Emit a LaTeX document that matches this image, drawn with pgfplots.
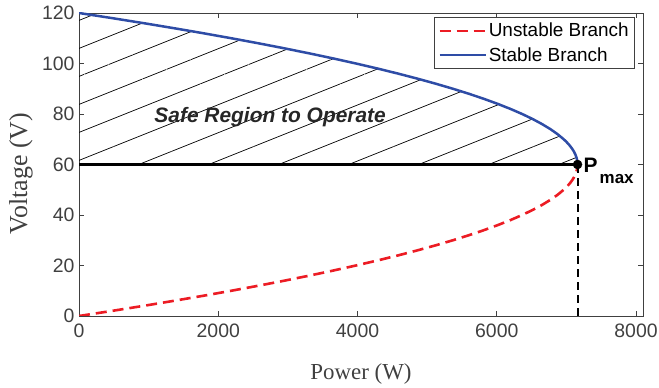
\documentclass[border=0pt]{standalone}
\usepackage{pgfplots}
\pgfplotsset{compat=1.18}
\usetikzlibrary{patterns.meta}
\usepackage{fontspec}
\setmainfont{Liberation Sans}
\newfontfamily\timesf{Liberation Serif}
\definecolor{cblue}{RGB}{46,76,166}
\definecolor{cred}{RGB}{236,28,36}
\definecolor{axgray}{RGB}{64,64,64}
\pgfplotstableread{
P V
0 0
469.4 2
922.8 4
1360.4 6
1782.0 8
2187.8 10
2577.6 12
2951.5 14
3309.5 16
3651.6 18
3977.8 20
4288.0 22
4582.4 24
4860.8 26
5123.4 28
5370.0 30
5600.7 32
5815.5 34
6014.4 36
6197.4 38
6364.4 40
6515.6 42
6650.8 44
6770.2 46
6873.6 48
6961.1 50
6998.9 51
7032.7 52
7062.5 53
7088.4 54
7110.3 55
7128.2 56
7142.1 57
7152.0 58
7158.0 59
7160.0 60
}\unstable
\pgfplotstableread{
P V
0 120
469.4 118
922.8 116
1360.4 114
1782.0 112
2187.8 110
2577.6 108
2951.5 106
3309.5 104
3651.6 102
3977.8 100
4288.0 98
4582.4 96
4860.8 94
5123.4 92
5370.0 90
5600.7 88
5815.5 86
6014.4 84
6197.4 82
6364.4 80
6515.6 78
6650.8 76
6770.2 74
6873.6 72
6961.1 70
6998.9 69
7032.7 68
7062.5 67
7088.4 66
7110.3 65
7128.2 64
7142.1 63
7152.0 62
7158.0 61
7160.0 60
}\stable
\pgfplotstableread{
P V
0 120
469.4 118
922.8 116
1360.4 114
1782.0 112
2187.8 110
2577.6 108
2951.5 106
3309.5 104
3651.6 102
3977.8 100
4288.0 98
4582.4 96
4860.8 94
5123.4 92
5370.0 90
5600.7 88
5815.5 86
6014.4 84
6197.4 82
6364.4 80
6515.6 78
6650.8 76
6770.2 74
6873.6 72
6961.1 70
6998.9 69
7032.7 68
7062.5 67
7088.4 66
7110.3 65
7128.2 64
7142.1 63
7152.0 62
7158.0 61
7160.0 60
0 60
}\region
\begin{document}
\begin{tikzpicture}
\begin{axis}[
  at={(79bp,72bp)}, anchor=south west,
  scale only axis, width=564bp, height=303bp,
  xmin=0, xmax=8100, ymin=0, ymax=120,
  xtick={0,2000,4000,6000,8000},
  ytick={0,20,40,60,80,100,120},
  scaled x ticks=false,
  /pgf/number format/assume math mode=true,
  /pgf/number format/set thousands separator={},
  tick label style={font=\fontsize{19.5}{19.5}\selectfont, text=axgray},
  xticklabel style={yshift=-4bp},
  yticklabel style={xshift=-1bp},
  axis line style={axgray, line width=0.8bp},
  major tick style={axgray, line width=0.8bp},
  major tick length=5bp,
  xlabel={Power (W)},
  ylabel={Voltage (V)},
  xlabel style={font=\timesf\fontsize{23}{23}\selectfont, text=axgray, at={(rel axis cs:0.5,0)}, anchor=base, yshift=-63bp},
  ylabel style={font=\timesf\fontsize{26}{26}\selectfont, text=axgray, at={(rel axis cs:0,0.47)}, anchor=center, rotate=0, yshift=58bp},
  legend style={at={(rel axis cs:0.986,0.987)}, anchor=north east, draw=axgray, line width=0.7bp, fill=white,
    font=\fontsize{19}{19}\selectfont, inner xsep=4bp, inner ysep=4bp, row sep=5bp},
  legend cell align=left,
  legend image code/.code={\draw[#1] (0bp,0bp) -- (46bp,0bp);},
]
\addplot[draw=none, pattern={Lines[angle=21.8, distance=26bp, line width=0.7bp]}, pattern color=black, forget plot] table[x=P,y=V] {\region};
\addplot[cred, line width=2.6bp, dash pattern=on 11bp off 6bp] table[x=P,y=V] {\unstable};
\addlegendentry{Unstable Branch}
\addplot[cblue, line width=2.5bp] table[x=P,y=V] {\stable};
\addlegendentry{Stable Branch}
\addplot[black, line width=2.2bp, forget plot] coordinates {(0,60) (7160,60)};
\addplot[black, line width=2bp, dash pattern=on 8bp off 5bp, forget plot] coordinates {(7160,0) (7160,60)};
\addplot[only marks, mark=*, mark size=4.5bp, black, forget plot] coordinates {(7160,60)};
\node[font=\bfseries\itshape\fontsize{21}{21}\selectfont, text=black!85, inner sep=0] at (axis cs:2745,78.8) {Safe Region to Operate};
\node[font=\bfseries\fontsize{21}{21}\selectfont, anchor=west, inner sep=0] at (axis cs:7160,60) [xshift=6bp, yshift=-1bp] {P};
\node[font=\bfseries\fontsize{17}{17}\selectfont, anchor=base west, inner sep=0] at (axis cs:7160,60) [xshift=22bp, yshift=-19bp] {max};
\end{axis}
\pgfresetboundingbox
\path[use as bounding box] (0,0) rectangle (659bp,388bp);
\end{tikzpicture}
\end{document}
